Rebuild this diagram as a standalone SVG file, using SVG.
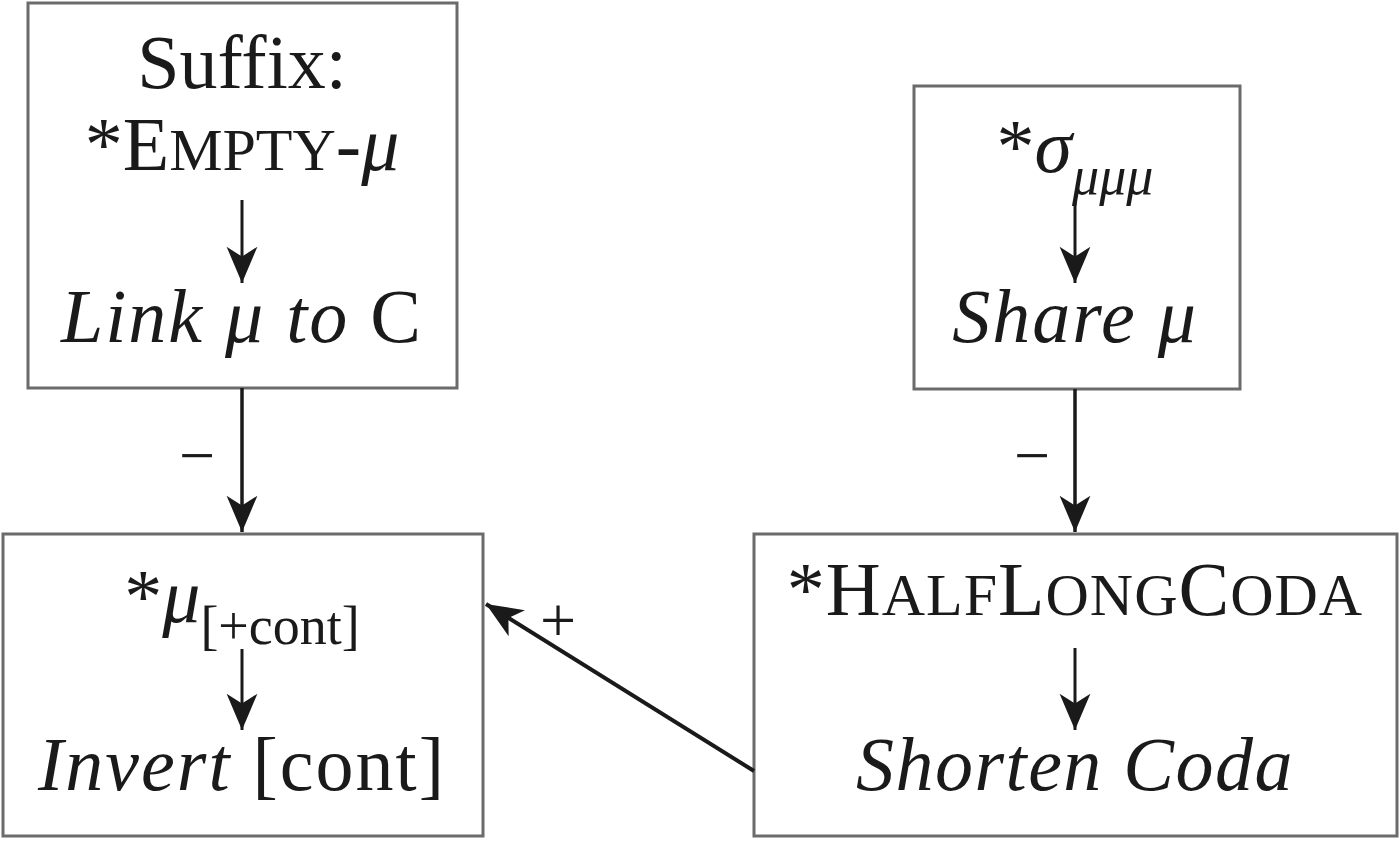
<svg xmlns="http://www.w3.org/2000/svg" width="1400" height="843" viewBox="0 0 1400 843">
<defs>
<style>
.box{fill:#fff;stroke:#6b6b6b;stroke-width:3}
.t{font-family:"Liberation Serif","DejaVu Serif",serif;font-size:76px;fill:#1a1a1a;text-anchor:middle}
.i{font-style:italic}
.ls{letter-spacing:2px}
.sub{font-size:54px}
.sc{font-size:60px}
.lbl{font-family:"Liberation Serif","DejaVu Serif",serif;font-size:64px;fill:#1a1a1a;text-anchor:middle}
.c{stroke:#1a1a1a;stroke-width:3.5;fill:none}
.ci{stroke:#1a1a1a;stroke-width:3;fill:none}
</style>
<marker id="ah" markerUnits="userSpaceOnUse" markerWidth="44" markerHeight="40" viewBox="-36 -18 40 36" refX="0" refY="0" orient="auto">
<path d="M0,0 L-33,-14 L-24,0 L-33,14 Z" fill="#1a1a1a"/>
</marker>
</defs>
<rect width="1400" height="843" fill="#fff"/>
<g id="node-empty">
<rect class="box" x="28" y="3" width="429" height="385"/>
<text class="t" x="242" y="88">Suffix:</text>
<text class="t" x="242" y="170">*E<tspan class="sc">MPTY</tspan>-<tspan class="i">μ</tspan></text>
<line class="ci" x1="242" y1="200" x2="242" y2="283" marker-end="url(#ah)"/>
<text class="t ls" x="242" y="342"><tspan class="i">Link μ to</tspan> C</text>
</g>
<g id="node-sigma">
<rect class="box" x="914" y="86" width="326" height="303"/>
<text class="t" x="1075" y="172"><tspan>*</tspan><tspan class="i">σ</tspan><tspan class="sub i" dy="22">μμμ</tspan></text>
<line class="ci" x1="1075" y1="202" x2="1075" y2="283" marker-end="url(#ah)"/>
<text class="t i ls" x="1075" y="342">Share μ</text>
</g>
<g id="node-mucont">
<rect class="box" x="3" y="534" width="480" height="302"/>
<text class="t" x="242" y="622">*<tspan class="i">μ</tspan><tspan class="sub" dy="22">[+cont]</tspan></text>
<line class="ci" x1="242" y1="649" x2="242" y2="730" marker-end="url(#ah)"/>
<text class="t ls" x="242" y="790"><tspan class="i">Invert</tspan> [cont]</text>
</g>
<g id="node-halflong">
<rect class="box" x="754" y="534" width="643" height="302"/>
<text class="t" x="1075" y="615" style="letter-spacing:1px">*H<tspan class="sc">ALF</tspan>L<tspan class="sc">ONG</tspan>C<tspan class="sc">ODA</tspan></text>
<line class="ci" x1="1075" y1="648" x2="1075" y2="730" marker-end="url(#ah)"/>
<text class="t i" x="1075" y="790" style="letter-spacing:1.5px">Shorten Coda</text>
</g>
<g id="connectors">
<line class="c" x1="242" y1="388" x2="242" y2="532" marker-end="url(#ah)"/>
<text class="lbl" x="197" y="477">−</text>
<line class="c" x1="1075" y1="389" x2="1075" y2="532" marker-end="url(#ah)"/>
<text class="lbl" x="1032" y="477">−</text>
<line class="c" x1="754" y1="771" x2="486" y2="604" marker-end="url(#ah)" style="stroke-width:4"/>
<text class="lbl" x="558" y="642">+</text>
</g>
</svg>
